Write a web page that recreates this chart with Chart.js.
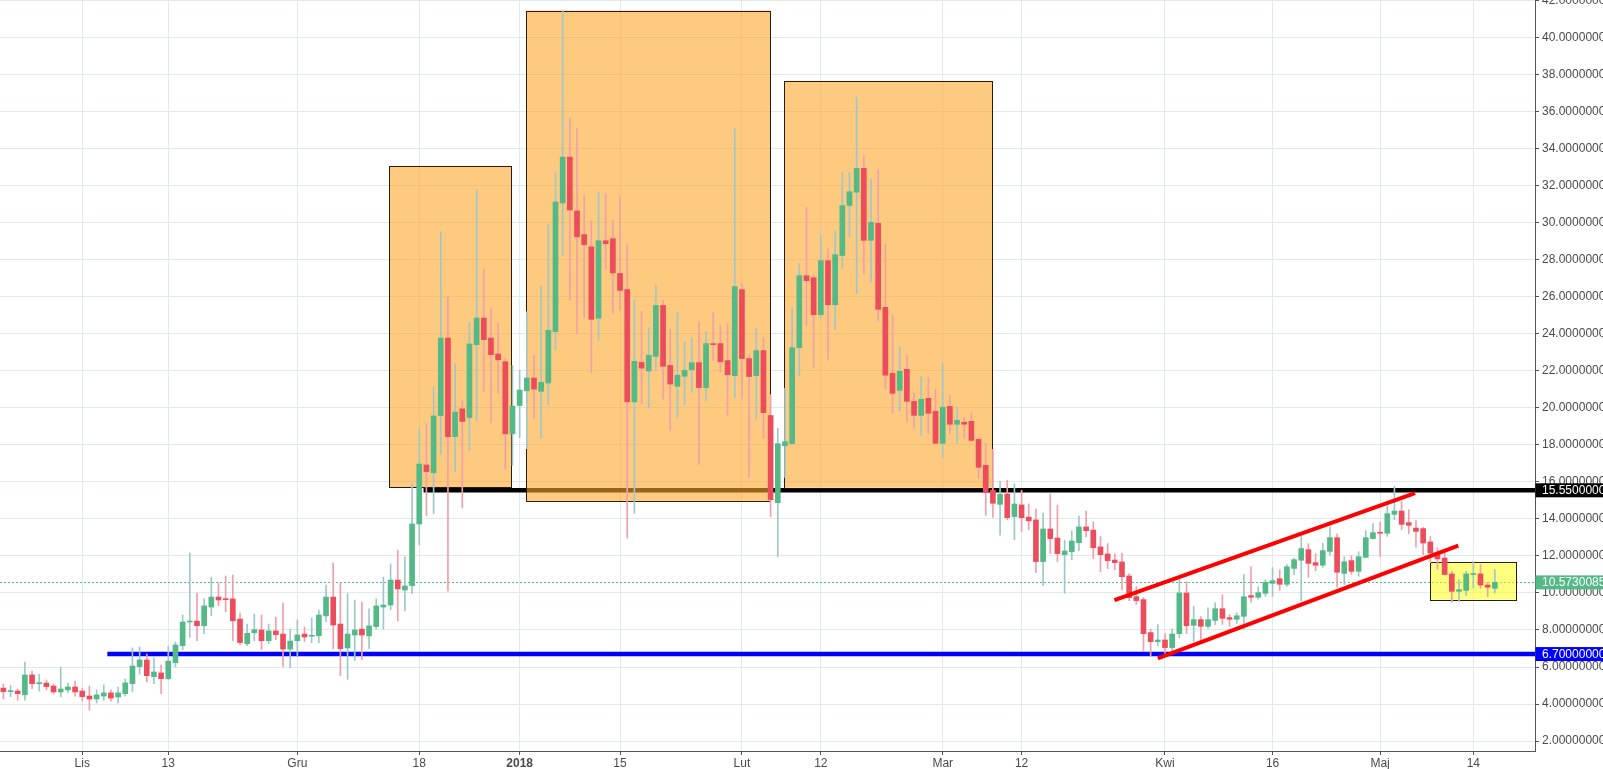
<!DOCTYPE html>
<html><head><meta charset="utf-8">
<script src="https://cdn.jsdelivr.net/npm/chart.js@4.4.1/dist/chart.umd.min.js"></script>
<style>html,body{margin:0;padding:0;background:#fff;overflow:hidden}#wrap{width:1603px;height:769px;position:relative}</style>
</head><body><div id="wrap"><canvas id="c"></canvas></div>
<script>
// day index relative to 2018-01-01; first candle = 2017-10-21
const firstDay = -72;
const opens = [
4.86,4.67,4.70,4.50,5.57,5.10,5.13,4.97,4.65,4.76,4.92,4.70,4.43,4.27,4.43,4.60,4.38,4.56,5.10,6.02,
6.38,5.48,5.68,5.37,6.23,7.15,8.43,8.48,8.23,9.24,9.78,9.68,9.68,8.59,7.26,7.85,8.00,7.42,7.95,7.78,
6.97,7.42,7.78,7.66,7.69,8.76,9.78,8.32,7.03,7.73,8.05,7.68,8.18,9.24,9.35,10.70,10.16,10.40,13.73,16.92,
16.50,19.59,23.78,18.45,19.95,19.48,23.42,24.86,23.78,22.92,22.50,18.60,
20.13,20.93,21.62,20.90,21.35,24.13,31.08,33.56,30.65,29.37,28.71,24.85,29.04,29.15,27.27,26.40,20.33,22.46,22.00,22.79,
25.54,22.30,21.17,21.71,22.07,22.45,21.10,23.48,23.48,22.56,21.75,26.40,22.67,21.75,23.10,19.59,14.88,17.96,18.07,23.26,
27.15,27.04,25.04,27.96,25.58,28.24,30.94,31.66,32.95,29.06,29.98,25.44,21.87,20.95,22.09,20.36,19.60,20.52,19.82,18.09,
20.09,19.12,19.23,19.28,18.30,16.90,15.55,14.79,15.35,14.13,14.76,14.10,13.95,11.70,13.46,12.97,12.07,12.23,12.72,13.57,
13.40,12.49,12.11,11.78,11.68,10.92,9.80,9.64,7.86,7.37,7.46,7.05,7.80,10.00,8.25,8.56,8.20,8.52,9.15,8.67,
8.58,8.74,9.86,9.77,9.98,10.52,10.77,10.47,11.33,11.77,12.34,11.64,11.50,12.25,12.99,11.06,11.75,11.17,11.93,12.94,
13.28,13.23,14.25,14.43,13.80,13.51,13.48,12.76,12.16,11.89,11.03,10.09,10.14,11.00,11.03,10.43,10.25
];
const highs = [
5.08,5.00,4.80,6.27,5.78,5.60,5.30,5.08,6.00,5.13,5.24,4.86,4.97,4.76,5.03,4.76,4.92,5.35,7.03,7.08,
6.70,6.49,6.10,7.13,7.35,8.81,12.16,10.00,9.68,10.86,10.56,10.92,10.97,8.92,8.32,8.86,8.81,8.32,8.70,9.46,
8.05,8.54,8.16,8.65,9.08,10.43,11.62,10.54,9.96,9.62,9.51,9.14,9.68,10.86,11.57,12.32,11.95,15.90,18.86,19.17,
21.14,29.51,26.00,22.40,20.38,24.60,31.78,27.50,25.40,24.60,22.70,22.30,
22.05,25.20,22.85,26.60,29.90,32.75,41.48,35.65,35.13,31.48,30.12,31.67,31.58,30.17,31.40,28.83,25.87,25.20,24.33,26.63,
25.80,24.25,25.15,23.60,23.80,24.67,24.13,25.15,24.45,24.56,35.10,26.72,22.90,24.30,23.80,20.72,18.90,21.06,25.37,27.80,
30.83,27.20,29.37,28.60,29.58,32.72,32.72,36.80,33.66,32.36,32.90,28.85,25.00,23.30,22.85,20.81,21.70,21.66,21.00,22.38,
20.68,20.04,19.50,19.73,18.36,18.09,17.77,16.04,16.10,15.90,15.55,14.81,14.54,14.32,15.35,14.76,12.86,13.35,14.16,14.43,
13.84,13.05,12.67,12.11,12.16,11.05,10.34,9.75,8.05,8.29,7.80,8.05,10.81,10.60,9.27,8.72,9.20,9.48,9.91,8.83,
8.94,10.99,11.42,10.34,10.72,11.37,11.26,11.53,11.87,13.06,12.67,12.13,12.68,13.59,13.20,11.96,12.02,12.23,13.37,13.75,
13.82,14.72,15.77,14.95,14.50,13.91,13.55,13.05,12.45,12.29,11.17,10.72,11.17,11.71,11.53,10.58,11.26
];
const lows = [
4.27,4.40,4.20,4.21,4.83,4.70,4.76,4.56,4.38,4.60,4.43,4.15,3.68,4.05,4.20,4.15,4.05,4.43,4.67,5.62,
5.19,5.10,4.56,5.30,6.00,6.92,7.60,7.42,7.80,8.77,9.32,8.99,7.42,7.21,7.15,7.42,6.94,7.26,7.48,6.02,
5.96,6.61,7.37,7.31,7.31,8.45,6.99,5.53,5.33,6.34,6.40,6.99,8.05,8.05,9.08,8.49,9.03,9.96,12.60,14.18,
14.29,17.49,10.10,16.56,14.60,17.70,19.27,20.90,19.20,20.80,16.70,16.90,
18.40,17.80,19.46,18.35,20.17,23.13,28.25,25.83,24.02,24.88,21.90,23.67,27.50,25.12,25.27,12.96,14.30,20.23,20.00,22.02,
20.48,18.77,19.46,20.17,20.85,16.95,20.40,22.56,21.93,19.60,20.56,20.50,16.25,19.40,18.34,14.13,11.96,16.25,18.07,21.75,
24.45,22.18,24.88,22.60,24.23,27.53,29.26,26.18,27.23,26.80,24.70,21.03,19.73,19.82,19.25,18.90,18.52,18.63,18.09,17.33,
18.63,18.09,18.36,18.20,16.20,14.20,14.09,13.12,13.95,12.88,13.32,13.42,11.10,10.40,12.13,11.70,9.98,11.80,12.29,13.05,
11.86,11.15,11.32,11.26,10.18,9.59,9.37,6.88,6.56,7.15,6.56,6.88,7.59,7.80,7.38,7.33,8.09,8.29,8.31,8.20,
8.36,8.04,9.50,9.66,9.82,9.82,10.14,10.36,10.99,9.55,10.85,11.21,11.39,12.04,10.31,10.47,11.00,10.90,11.91,12.92,
11.98,13.06,13.96,13.42,13.19,12.47,12.07,11.64,11.28,10.95,9.50,9.53,9.87,10.27,10.25,9.80,10.00
];
const closes = [
4.67,4.72,4.56,5.57,5.10,5.13,4.94,4.65,4.81,4.92,4.65,4.40,4.27,4.49,4.60,4.32,4.60,5.14,6.05,6.38,
5.53,5.73,5.37,6.32,7.19,8.43,8.48,8.23,9.30,9.78,9.62,9.64,8.50,7.32,7.82,8.02,7.42,7.95,7.75,6.97,
7.40,7.73,7.62,7.70,8.81,9.78,8.27,6.99,7.78,8.00,7.73,8.22,9.30,9.35,10.70,10.22,10.38,13.73,16.97,16.56,
19.57,23.78,18.45,19.78,19.27,23.46,24.86,23.69,22.88,22.60,18.60,20.10,
20.97,21.62,21.02,21.38,24.20,31.13,33.56,30.70,29.25,28.83,24.79,29.04,28.88,27.30,26.35,20.33,22.52,22.15,22.85,25.54,
22.25,21.29,21.77,22.04,22.45,21.10,23.48,23.42,22.50,21.80,26.56,22.67,21.70,23.10,19.75,15.04,18.07,18.18,23.26,27.15,
26.88,25.04,27.96,25.58,28.29,30.94,31.69,32.95,29.06,30.04,25.33,21.77,20.79,21.98,20.36,19.60,20.47,19.71,18.09,20.04,
19.12,19.33,19.12,18.25,16.79,15.44,14.85,15.33,14.07,14.81,14.07,13.90,11.70,13.46,12.94,12.13,12.27,12.81,13.57,13.37,
12.45,12.07,11.75,11.64,10.88,9.75,9.59,7.80,7.37,7.46,7.05,7.78,10.00,8.23,8.56,8.20,8.56,9.15,8.63,8.58,
8.77,9.80,9.77,10.02,10.58,10.67,10.47,11.42,11.80,12.40,11.60,11.50,12.29,12.99,11.12,11.69,11.17,11.96,12.99,13.26,
13.23,14.29,14.43,13.71,13.66,13.33,12.70,12.16,11.84,11.00,10.09,10.18,11.03,11.03,10.43,10.31,10.573
];
const xTickDays = [-61,-49,-31,-14,0,14,31,42,59,70,90,105,120,133];
const xTickLabels = ['Lis','13','Gru','18','2018','15','Lut','12','Mar','12','Kwi','16','Maj','14'];
const yTickValues = [2,4,6,8,10,12,14,16,18,20,22,24,26,28,30,32,34,36,38,40,42];
const levelResistance = 15.55;
const levelSupport = 6.70;
const lastPrice = 10.57300856;
const resistanceFrom = -13.4, supportFrom = -57.5;
const channelUpper = [{x:82.95,y:9.62},{x:124.88,y:15.40}];
const channelLower = [{x:89.0,y:6.47},{x:130.9,y:12.56}];
// [xFrom, xTo, yLow, yHigh]
const orangeBoxes = [[-18.16,-1.1,15.71,33.08],[0.94,34.97,14.98,41.48],[36.92,65.93,15.69,37.68]];
const yellowBox = [127.0,139.06,9.64,11.68];

const UP='#53b987', DOWN='#eb4d5c', UPW='#9fc7c9', DOWNW='#f1a0aa';
const days = opens.map((_, i) => firstDay + i);
const isUp = i => closes[i] >= opens[i];
const wickData = days.map((d,i)=>({x:d,y:[lows[i],highs[i]]}));
const bodyData = days.map((d,i)=>({x:d,y:[opens[i],closes[i]]}));
const FONT = "'Liberation Sans', Arial, sans-serif";
Chart.defaults.font.family = FONT;
Chart.defaults.font.size = 12;
Chart.defaults.color = '#4a4a4a';

const WICK_IDX = 2;
const overlay = {
  id:'overlay',
  beforeDatasetsDraw(chart){
    const {ctx, chartArea:a, scales:{x,y}} = chart;
    ctx.save();
    ctx.beginPath(); ctx.rect(a.left,a.top,a.right-a.left,a.bottom-a.top); ctx.clip();
    const py = y.getPixelForValue(lastPrice);
    ctx.strokeStyle = UP; ctx.lineWidth = 1; ctx.setLineDash([2,2]);
    ctx.beginPath(); ctx.moveTo(a.left, Math.round(py)+0.5); ctx.lineTo(a.right, Math.round(py)+0.5); ctx.stroke();
    ctx.restore();
  },
  beforeDatasetDraw(chart, args){
    if (args.index !== WICK_IDX) return;
    const {ctx, chartArea:a, scales:{x,y}} = chart;
    ctx.save();
    ctx.beginPath(); ctx.rect(a.left,a.top,a.right-a.left,a.bottom-a.top); ctx.clip();
    const box = (b, fill) => {
      const x0 = x.getPixelForValue(b[0]), x1 = x.getPixelForValue(b[1]);
      const y0 = y.getPixelForValue(b[3]), y1 = y.getPixelForValue(b[2]);
      ctx.fillStyle = fill; ctx.fillRect(x0,y0,x1-x0,y1-y0);
      ctx.strokeStyle = 'rgba(30,18,0,0.95)'; ctx.lineWidth = 1;
      ctx.strokeRect(Math.round(x0)+0.5, Math.round(y0)+0.5, Math.round(x1-x0), Math.round(y1-y0));
    };
    orangeBoxes.forEach(b => box(b, 'rgba(252,167,43,0.6)'));
    box(yellowBox, 'rgba(255,255,0,0.5)');
    ctx.restore();
  },
  afterDraw(chart){
    const {ctx, chartArea:a, scales:{y}} = chart;
    const tag = (v, bg, txt) => {
      const py = y.getPixelForValue(v);
      ctx.fillStyle = bg; ctx.fillRect(a.right+0.5, py-7, chart.width - a.right, 14);
      ctx.fillStyle = '#fff'; ctx.font = '12px ' + FONT; ctx.textBaseline = 'middle'; ctx.textAlign='left';
      ctx.fillText(txt, a.right + 7, py + 0.5);
    };
    tag(levelResistance, '#000000', levelResistance.toFixed(8));
    tag(lastPrice, UP, lastPrice.toFixed(8));
    tag(levelSupport, '#0000ff', levelSupport.toFixed(8));
  }
};

new Chart(document.getElementById('c'), {
  type:'bar',
  data:{ datasets:[
    {type:'line', data:channelUpper, borderColor:'#ff0000', borderWidth:4, pointRadius:0, order:0, borderCapStyle:'butt'},
    {type:'line', data:channelLower, borderColor:'#ff0000', borderWidth:4, pointRadius:0, order:0, borderCapStyle:'butt'},
    {data:wickData, grouped:false, barThickness:1, order:2, borderWidth:0, borderSkipped:false,
      backgroundColor: c => isUp(c.dataIndex) ? UPW : DOWNW},
    {data:bodyData, grouped:false, barThickness:5, minBarLength:1, order:1, borderWidth:0, borderSkipped:false,
      backgroundColor: c => isUp(c.dataIndex) ? UP : DOWN},
    {type:'line', data:[{x:resistanceFrom,y:levelResistance},{x:160,y:levelResistance}], borderColor:'#000000', borderWidth:4.5, pointRadius:0, order:5},
    {type:'line', data:[{x:supportFrom,y:levelSupport},{x:160,y:levelSupport}], borderColor:'#0000ff', borderWidth:4.5, pointRadius:0, order:5}
  ]},
  options:{
    responsive:true, maintainAspectRatio:false, animation:false,
    layout:{padding:0},
    plugins:{legend:{display:false}, tooltip:{enabled:false}},
    events:[],
    scales:{
      x:{type:'linear', min:-72.47, max:141.6, offset:false,
        grid:{offset:false, color:'#e1e9ef', tickColor:'#555', tickLength:4, drawOnChartArea:true},
        border:{display:true, color:'#555', width:1},
        afterBuildTicks: s => { s.ticks = xTickDays.map(v=>({value:v})); },
        afterFit: s => { s.height = 18; s.paddingLeft = 0; s.paddingRight = 0; },
        ticks:{autoSkip:false, maxRotation:0, padding:1, color:'#4a4a4a',
          callback: v => xTickLabels[xTickDays.indexOf(v)],
          font: c => ({family:FONT, size:12, weight: (c.tick && c.tick.value===0) ? 'bold' : 'normal'})}
      },
      y:{type:'linear', position:'right', min:1.46, max:42.05, beginAtZero:false,
        grid:{color:'#e1e9ef', tickColor:'#555', tickLength:4},
        border:{display:true, color:'#555', width:1},
        afterBuildTicks: s => { s.ticks = yTickValues.map(v=>({value:v})); },
        afterFit: s => { s.width = 68; s.paddingTop = 0; s.paddingBottom = 0; },
        ticks:{padding:3, color:'#4a4a4a', callback: v => Number(v).toFixed(8)}
      }
    }
  },
  plugins:[overlay]
});
</script>
</body></html>
